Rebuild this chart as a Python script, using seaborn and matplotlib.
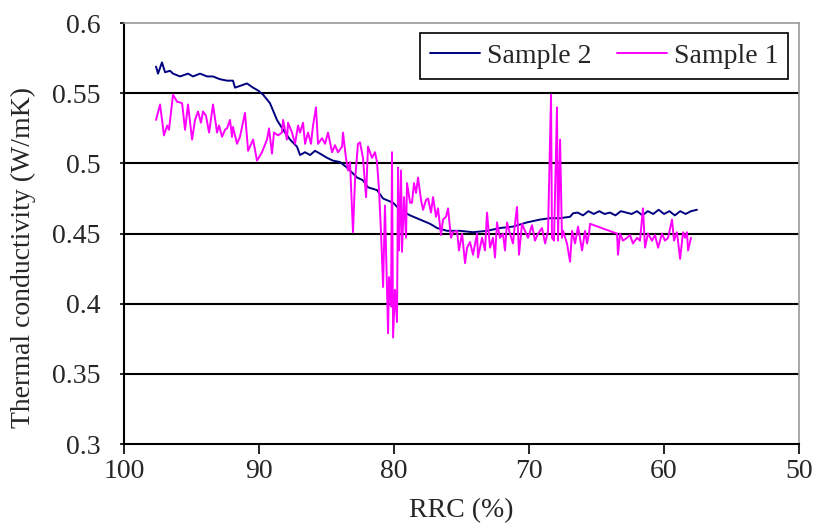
import matplotlib
matplotlib.use("Agg")
import matplotlib.pyplot as plt
import seaborn as sns
import pandas as pd

# Sample 2 (navy)
s2_rrc = [97.63, 97.48, 97.19, 96.96, 96.59, 96.37, 95.85, 95.26, 94.89, 94.37, 93.85, 93.41,
          92.89, 92.37, 91.93, 91.78, 90.89, 90.44, 90.07, 89.70, 89.19, 88.67, 88.22, 87.70,
          87.19, 86.96, 86.59, 86.22, 85.85, 85.48, 84.96, 84.52, 84.00, 83.48, 82.74, 82.30,
          81.93, 81.26, 80.81, 80.07, 79.56, 78.81, 78.07, 77.33, 76.81, 76.07, 75.11, 74.15,
          73.11, 72.15, 71.19, 70.15, 69.19, 68.44, 67.70, 66.96, 66.74, 66.40, 66.00, 65.60,
          65.20, 64.80, 64.40, 64.00, 63.60, 63.20, 62.80, 62.40, 62.00, 61.60, 61.20, 60.80,
          60.40, 60.00, 59.60, 59.20, 58.80, 58.40, 58.00, 57.56]
s2_k = [0.569, 0.564, 0.572, 0.565, 0.566, 0.564, 0.562, 0.564, 0.562, 0.564, 0.562, 0.562,
        0.560, 0.559, 0.559, 0.554, 0.557, 0.554, 0.552, 0.549, 0.543, 0.531, 0.524, 0.517,
        0.512, 0.506, 0.508, 0.506, 0.509, 0.507, 0.504, 0.502, 0.501, 0.497, 0.490, 0.488,
        0.483, 0.481, 0.475, 0.472, 0.467, 0.463, 0.460, 0.457, 0.454, 0.452, 0.452, 0.451,
        0.452, 0.454, 0.455, 0.458, 0.460, 0.461, 0.461, 0.462, 0.4645, 0.465, 0.463, 0.466,
        0.464, 0.466, 0.464, 0.465, 0.463, 0.466, 0.465, 0.464, 0.466, 0.463, 0.466, 0.464,
        0.467, 0.464, 0.466, 0.463, 0.466, 0.464, 0.466, 0.467]

# Sample 1 (magenta)
s1_rrc = [97.63, 97.33, 97.04, 96.81, 96.67, 96.37, 96.07, 95.70, 95.48, 95.26, 94.96, 94.74,
          94.52, 94.30, 94.15, 93.93, 93.70, 93.41, 93.11, 92.96, 92.74, 92.52, 92.37, 92.15,
          92.00, 91.93, 91.63, 91.41, 91.04, 90.81, 90.44, 90.15, 89.78, 89.41, 89.26, 89.04,
          88.89, 88.59, 88.30, 88.22, 87.93, 87.85, 87.56, 87.33, 87.11, 86.96, 86.74, 86.59,
          86.37, 86.15, 86.00, 85.78, 85.63, 85.33, 85.11, 84.89, 84.59, 84.37, 84.15, 83.85,
          83.78, 83.56, 83.41, 83.26, 83.04, 82.89, 82.67, 82.52, 82.30, 82.07, 81.93, 81.63,
          81.41, 81.26, 81.11, 80.96, 80.81, 80.67, 80.44, 80.37, 80.22, 80.15, 80.07, 79.93,
          79.78, 79.70, 79.63, 79.48, 79.41, 79.26, 79.11, 79.04, 78.81, 78.67, 78.52, 78.37,
          78.22, 78.00, 77.85, 77.63, 77.48, 77.26, 77.11, 76.89, 76.74, 76.52, 76.37, 76.15,
          76.00, 75.78, 75.63, 75.33, 75.19, 74.96, 74.74, 74.59, 74.37, 74.15, 73.85, 73.78,
          73.48, 73.26, 73.11, 72.89, 72.67, 72.52, 72.37, 72.15, 71.93, 71.78, 71.63, 71.41,
          71.19, 71.04, 70.89, 70.74, 70.52, 70.30, 70.07, 69.78, 69.56, 69.33, 69.04, 68.81,
          68.59, 68.37, 68.30, 68.15, 67.93, 67.85, 67.70, 67.56, 67.48, 67.19, 66.96, 66.81,
          66.59, 66.37, 66.07, 65.85, 65.70, 65.56, 65.48, 63.48, 63.41, 63.26, 63.04, 62.74,
          62.52, 62.30, 62.00, 61.78, 61.56, 61.41, 61.19, 60.89, 60.67, 60.44, 60.15, 59.93,
          59.70, 59.41, 59.26, 59.04, 58.81, 58.59, 58.44, 58.30, 58.22, 58.00]
s1_k = [0.531, 0.542, 0.520, 0.527, 0.524, 0.549, 0.544, 0.543, 0.524, 0.542, 0.517, 0.531,
        0.537, 0.529, 0.537, 0.534, 0.522, 0.542, 0.522, 0.527, 0.519, 0.524, 0.525, 0.531,
        0.519, 0.526, 0.514, 0.519, 0.536, 0.509, 0.517, 0.502, 0.508, 0.517, 0.525, 0.507,
        0.522, 0.520, 0.522, 0.531, 0.517, 0.529, 0.522, 0.514, 0.527, 0.522, 0.529, 0.514,
        0.522, 0.514, 0.527, 0.540, 0.514, 0.518, 0.514, 0.522, 0.508, 0.513, 0.508, 0.512,
        0.522, 0.504, 0.495, 0.501, 0.451, 0.488, 0.514, 0.515, 0.504, 0.476, 0.512, 0.504,
        0.508, 0.501, 0.481, 0.450, 0.412, 0.470, 0.379, 0.419, 0.398, 0.508, 0.376, 0.410,
        0.387, 0.497, 0.438, 0.495, 0.437, 0.476, 0.447, 0.486, 0.472, 0.472, 0.486, 0.479,
        0.490, 0.474, 0.467, 0.474, 0.475, 0.465, 0.476, 0.462, 0.468, 0.449, 0.460, 0.462,
        0.468, 0.447, 0.451, 0.452, 0.438, 0.450, 0.429, 0.440, 0.444, 0.435, 0.450, 0.433,
        0.447, 0.438, 0.465, 0.440, 0.447, 0.433, 0.458, 0.447, 0.450, 0.438, 0.458, 0.450,
        0.443, 0.457, 0.469, 0.435, 0.457, 0.452, 0.447, 0.456, 0.445, 0.450, 0.454, 0.443,
        0.452, 0.549, 0.447, 0.445, 0.540, 0.445, 0.517, 0.447, 0.452, 0.443, 0.430, 0.452,
        0.443, 0.455, 0.438, 0.452, 0.443, 0.450, 0.457, 0.450, 0.435, 0.450, 0.445, 0.447,
        0.449, 0.443, 0.447, 0.445, 0.468, 0.440, 0.450, 0.445, 0.449, 0.440, 0.450, 0.445,
        0.447, 0.460, 0.445, 0.451, 0.432, 0.451, 0.447, 0.451, 0.438, 0.447]

series_names = ["Sample 2", "Sample 1"]
colors = ["#000080", "#FF00FF"]
x_ticks = [100, 90, 80, 70, 60, 50]
y_ticks = [0.3, 0.35, 0.4, 0.45, 0.5, 0.55, 0.6]
y_ticklabels = ["0.3", "0.35", "0.4", "0.45", "0.5", "0.55", "0.6"]

df = pd.concat([
    pd.DataFrame({"RRC": s2_rrc, "k": s2_k, "series": series_names[0]}),
    pd.DataFrame({"RRC": s1_rrc, "k": s1_k, "series": series_names[1]}),
], ignore_index=True)

FS = 20

sns.set_style("white")
plt.rcParams["font.family"] = ["Liberation Serif", "DejaVu Serif"]
plt.rcParams["font.size"] = FS

fig = plt.figure(figsize=(8.17, 5.25), dpi=100)
ax = fig.add_axes([0.1518, 0.154, 0.8262, 0.802])

sns.lineplot(data=df, x="RRC", y="k", hue="series", hue_order=series_names,
             palette=colors, sort=False, estimator=None, linewidth=1.4, ax=ax)

ax.set_xlim(100, 50)
ax.set_ylim(0.3, 0.6)
ax.set_xticks(x_ticks)
ax.set_xticklabels([str(t) for t in x_ticks])
ax.set_yticks(y_ticks)
ax.set_yticklabels(y_ticklabels)
for yv in y_ticks[1:-1]:
    ax.axhline(yv, color="black", linewidth=1.5, zorder=0.5)

ax.tick_params(axis="x", direction="out", length=7, width=1.2, color="black",
               labelsize=FS, pad=4, bottom=True)
ax.tick_params(axis="y", direction="out", length=3, width=1.2, color="black",
               labelsize=FS, pad=14, left=True)

ax.spines["left"].set_color("black")
ax.spines["left"].set_linewidth(1.5)
ax.spines["bottom"].set_color("black")
ax.spines["bottom"].set_linewidth(1.5)
ax.spines["top"].set_color("#999999")
ax.spines["top"].set_linewidth(1.2)
ax.spines["right"].set_color("#999999")
ax.spines["right"].set_linewidth(1.2)

ax.set_xlabel("RRC (%)", fontsize=FS, labelpad=10)
ax.set_ylabel("Thermal conductivity (W/mK)", fontsize=FS)
ax.yaxis.set_label_coords(-0.13, 0.444)

leg = ax.legend(ncol=2, loc="upper right", bbox_to_anchor=(0.984, 0.976),
                frameon=True, fancybox=False, edgecolor="black", fontsize=FS,
                handlelength=1.8, columnspacing=0.9, handletextpad=0.25,
                borderpad=0.36, borderaxespad=0.0)
leg.get_frame().set_linewidth(1.2)
leg.get_frame().set_alpha(1)

fig.savefig("out.png", dpi=100)
